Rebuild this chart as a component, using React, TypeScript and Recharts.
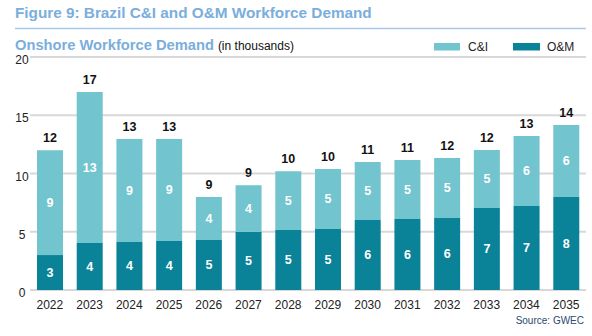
import React from "react";
import { BarChart, Bar, XAxis, YAxis, CartesianGrid, LabelList } from "recharts";

const years = ["2022","2023","2024","2025","2026","2027","2028","2029","2030","2031","2032","2033","2034","2035"];
const omValues = [3.0, 4.03, 4.12, 4.2, 4.29, 5.0, 5.15, 5.24, 6.0, 6.09, 6.18, 7.04, 7.21, 7.98];
const ciValues = [9.0, 12.97, 8.84, 8.76, 3.69, 4.0, 5.05, 5.15, 4.99, 5.07, 5.15, 4.98, 6.01, 6.18];
const omLabels = ["3","4","4","4","5","5","5","5","6","6","6","7","7","8"];
const ciLabels = ["9","13","9","9","4","4","5","5","5","5","5","5","6","6"];
const totalLabels = ["12","17","13","13","9","9","10","10","11","11","12","12","13","14"];
const yTicks = [0, 5, 10, 15, 20];

const data = years.map((y, i) => ({
  year: y,
  om: omValues[i],
  ci: ciValues[i],
  omLabel: omLabels[i],
  ciLabel: ciLabels[i],
  totalLabel: totalLabels[i],
}));

const FONT = "'Liberation Sans', Arial, Helvetica, sans-serif";
const CI_COLOR = "#72C4CE";
const OM_COLOR = "#0A8399";
const BLUE = "#7AAEDC";

const YTick = (props: any) => {
  const { y, payload } = props;
  return (
    <text x={22} y={y + 4} textAnchor="middle" dominantBaseline="middle" fontSize={12} fill="#222" fontFamily={FONT}>
      {payload.value}
    </text>
  );
};

const XTick = (props: any) => {
  const { x, payload } = props;
  return (
    <text x={x} y={306} textAnchor="middle" dominantBaseline="middle" fontSize={12} fill="#222" fontFamily={FONT}>
      {payload.value}
    </text>
  );
};

export default function App() {
  return (
    <div style={{ position: "absolute", left: 0, top: 0, width: 592, height: 336, background: "#fff", fontFamily: FONT }}>
      <BarChart
        width={592}
        height={336}
        data={data}
        margin={{ top: 57, right: 6, left: 0, bottom: 16 }}
        barSize={26}
      >
        <CartesianGrid vertical={false} stroke="#D8D8D8" strokeWidth={2} />
        <XAxis dataKey="year" axisLine={false} tickLine={false} height={30} tick={<XTick />} interval={0} />
        <YAxis domain={[0, 20]} ticks={yTicks} axisLine={false} tickLine={false} width={30} tick={<YTick />} />
        <Bar dataKey="om" stackId="a" fill={OM_COLOR} isAnimationActive={false}>
          <LabelList dataKey="omLabel" position="center" fill="#fff" fontSize={12.5} fontWeight="bold" fontFamily={FONT} />
        </Bar>
        <Bar dataKey="ci" stackId="a" fill={CI_COLOR} isAnimationActive={false}>
          <LabelList dataKey="ciLabel" position="center" fill="#fff" fontSize={12.5} fontWeight="bold" fontFamily={FONT} />
          <LabelList dataKey="totalLabel" position="top" offset={8} fill="#111" fontSize={12.5} fontWeight="bold" fontFamily={FONT} />
        </Bar>
      </BarChart>
      <svg width={592} height={336} style={{ position: "absolute", left: 0, top: 0, pointerEvents: "none" }}>
        <text x={15} y={18} fontSize={15.3} fontWeight="bold" fill={BLUE} fontFamily={FONT}>
          Figure 9: Brazil C&amp;I and O&amp;M Workforce Demand
        </text>
        <line x1={15} x2={586} y1={28.5} y2={28.5} stroke="#A9C9E9" strokeWidth={1.5} />
        <text x={15} y={50} fontFamily={FONT}>
          <tspan fontSize={14.7} fontWeight="bold" fill={BLUE}>Onshore Workforce Demand</tspan>
          <tspan fontSize={12} fill="#111" dx={4}>(in thousands)</tspan>
        </text>
        <rect x={434} y={43} width={26} height={7.5} fill={CI_COLOR} />
        <text x={468} y={50.5} fontSize={12} fill="#222" fontFamily={FONT}>C&amp;I</text>
        <rect x={513} y={43} width={27} height={7.5} fill={OM_COLOR} />
        <text x={547} y={50.5} fontSize={12} fill="#222" fontFamily={FONT}>O&amp;M</text>
        <text x={584} y={324} textAnchor="end" fontSize={10} fill="#2D4A6E" fontFamily={FONT}>Source: GWEC</text>
      </svg>
    </div>
  );
}
